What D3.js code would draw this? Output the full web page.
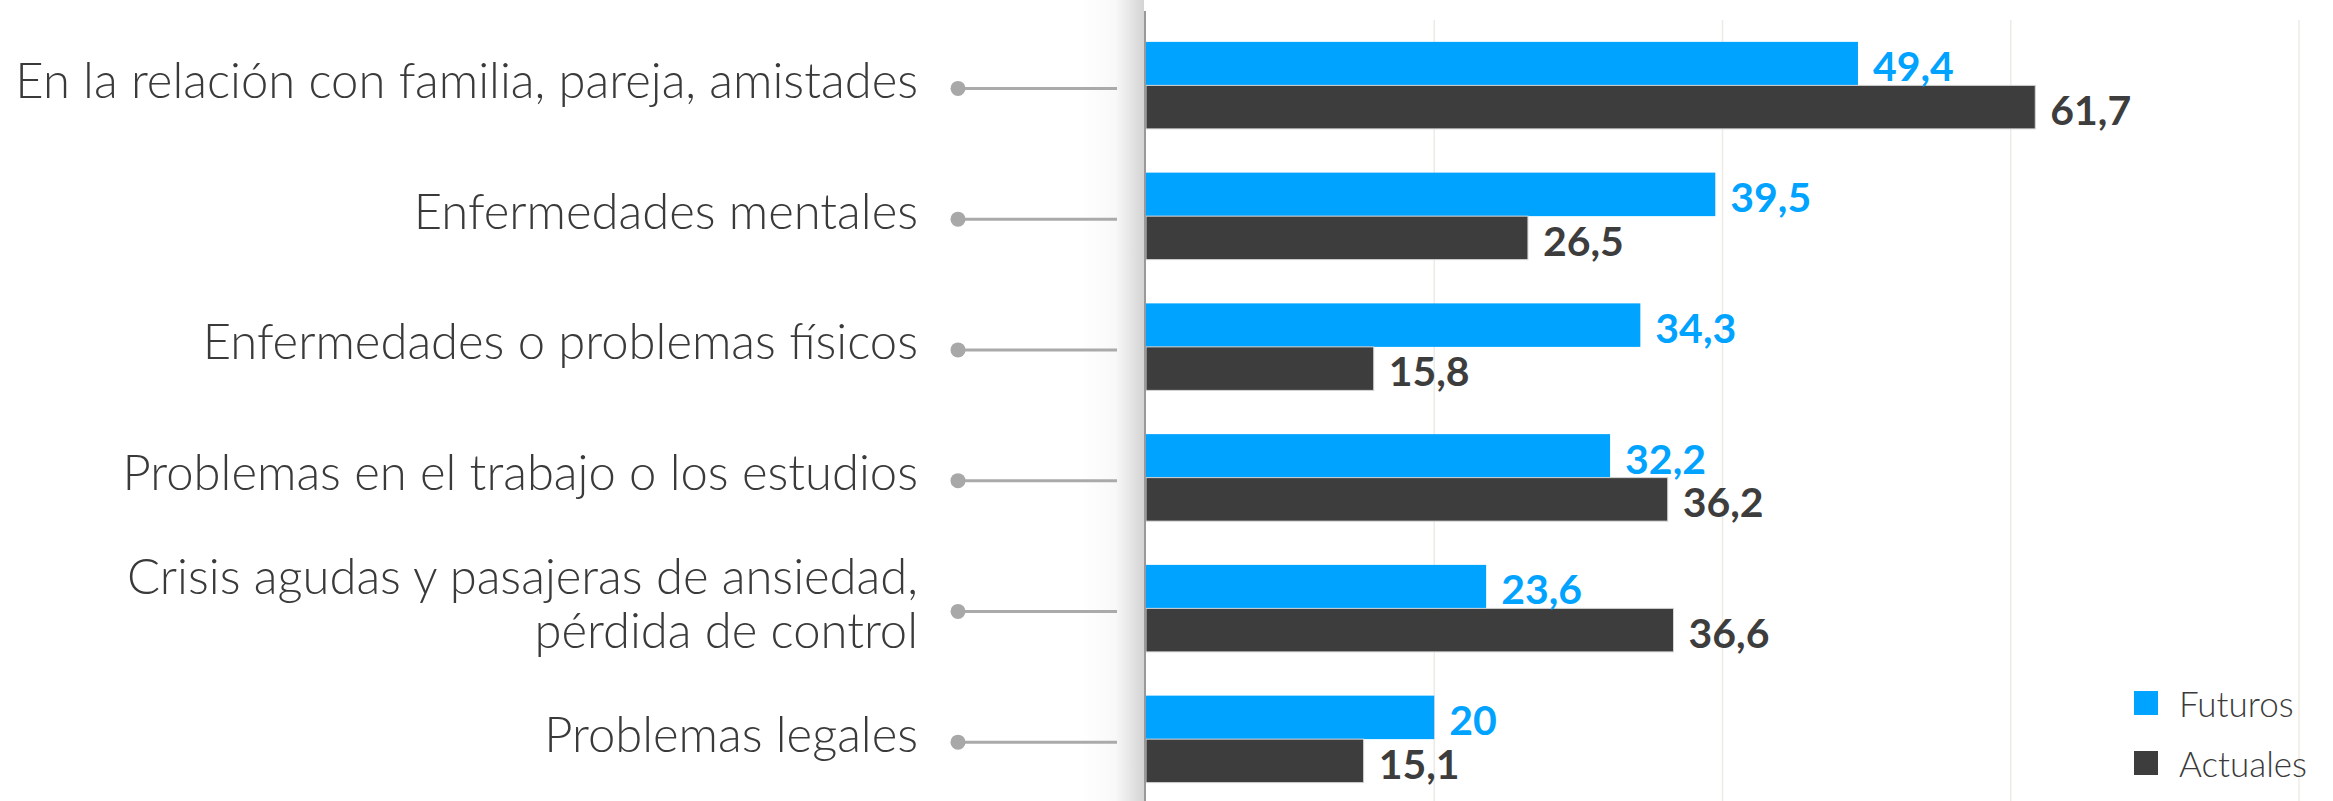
<!DOCTYPE html>
<html>
<head>
<meta charset="utf-8">
<script src="https://cdn.jsdelivr.net/npm/d3@7"></script>
<style>
  html, body { margin: 0; padding: 0; background: #ffffff; }
  svg { display: block; }
</style>
</head>
<body>
<script>
// ---- Data ----
const categories = [
  "En la relación con familia, pareja, amistades",
  "Enfermedades mentales",
  "Enfermedades o problemas físicos",
  "Problemas en el trabajo o los estudios",
  "Crisis agudas y pasajeras de ansiedad,\npérdida de control",
  "Problemas legales"
];
const seriesNames = ["Futuros", "Actuales"];
const futuros  = [49.4, 39.5, 34.3, 32.2, 23.6, 20];
const actuales = [61.7, 26.5, 15.8, 36.2, 36.6, 15.1];
const xTicks = [0, 20, 40, 60, 80];

// ---- Layout ----
const W = 2333, H = 801;
const colors = { "Futuros": "#00a3ff", "Actuales": "#3d3d3d" };
const locale = d3.formatLocale({ decimal: ",", thousands: ".", grouping: [3], currency: ["", "€"] });
const fmt = locale.format(".1~f");

const svg = d3.select("body").append("svg").attr("width", W).attr("height", H);

const x = d3.scaleLinear().domain([0, 80]).range([1146, 2299]);
const y = d3.scaleBand().domain(categories).range([20, 804.5]).paddingInner(0.3346).paddingOuter(0.1673);
const ySub = d3.scaleBand().domain(seriesNames).range([0, y.bandwidth()]);

// shadow left of axis
const defs = svg.append("defs");
const grad = defs.append("linearGradient").attr("id", "shadow").attr("x1", "0%").attr("x2", "100%").attr("y1", "0%").attr("y2", "0%");
grad.append("stop").attr("offset", "0%").attr("stop-color", "#000").attr("stop-opacity", 0);
grad.append("stop").attr("offset", "55%").attr("stop-color", "#000").attr("stop-opacity", 0.025);
grad.append("stop").attr("offset", "100%").attr("stop-color", "#000").attr("stop-opacity", 0.17);
svg.append("rect").attr("x", x(0) - 66).attr("y", 0).attr("width", 64).attr("height", H).attr("fill", "url(#shadow)");

// gridlines
svg.append("g").selectAll("line").data(xTicks.filter(d => d > 0)).join("line")
  .attr("x1", d => x(d)).attr("x2", d => x(d))
  .attr("y1", 20).attr("y2", H)
  .attr("stroke", "#ecebe4").attr("stroke-width", 1.5);

// rows
const data = categories.map((c, i) => ({ cat: c, Futuros: futuros[i], Actuales: actuales[i] }));

const rows = svg.append("g").selectAll("g").data(data).join("g")
  .attr("transform", d => `translate(0,${y(d.cat)})`);

rows.selectAll("rect").data(d => seriesNames.map(s => ({ s, v: d[s] }))).join("rect")
  .attr("x", x(0))
  .attr("y", d => ySub(d.s))
  .attr("width", d => x(d.v) - x(0))
  .attr("height", ySub.bandwidth())
  .attr("fill", d => colors[d.s])
  .attr("stroke", d => d.s === "Actuales" ? "#d4d4d4" : "none")
  .attr("stroke-width", 1);

rows.selectAll("text.val").data(d => seriesNames.map(s => ({ s, v: d[s] }))).join("text")
  .attr("class", "val")
  .attr("x", d => x(d.v) + 15)
  .attr("y", d => ySub(d.s) + ySub.bandwidth() - 4)
  .attr("fill", d => colors[d.s])
  .attr("font-family", "Lato, sans-serif")
  .attr("font-weight", 700)
  .attr("font-size", 41)
  .text(d => fmt(d.v));

// axis line
svg.append("line").attr("x1", x(0) - 1).attr("x2", x(0) - 1).attr("y1", 11).attr("y2", H)
  .attr("stroke", "#999").attr("stroke-width", 2);

// category labels with connectors
const labelG = svg.append("g");
const lineY = d => y(d.cat) + ySub.bandwidth() + 3;
labelG.selectAll("line").data(data).join("line")
  .attr("x1", 958).attr("x2", 1117)
  .attr("y1", lineY).attr("y2", lineY)
  .attr("stroke", "#aaaaaa").attr("stroke-width", 3);
labelG.selectAll("circle").data(data).join("circle")
  .attr("cx", 958).attr("cy", lineY).attr("r", 7.5).attr("fill", "#a8a8a8");

const labels = labelG.selectAll("text").data(data).join("text")
  .attr("text-anchor", "end")
  .attr("font-family", "Lato, sans-serif")
  .attr("font-weight", 300)
  .attr("font-size", 40)
  .attr("fill", "#3a3a3a");
labels.each(function(d) {
  const lines = d.cat.split("\n");
  const t = d3.select(this);
  const gap = 54;
  const base = lineY(d) + 9.5 - (lines.length - 1) * gap / 2;
  lines.forEach((ln, j) => {
    t.append("tspan").attr("x", 918).attr("y", base + j * gap).text(ln);
  });
});
// scale font so the longest single line spans the reference width
let maxW = 0;
labels.selectAll("tspan").each(function() { maxW = Math.max(maxW, this.getComputedTextLength()); });
labels.attr("font-size", 40 * 903 / maxW);

// legend
const leg = svg.append("g").selectAll("g").data(seriesNames).join("g")
  .attr("transform", (d, i) => `translate(2134,${691 + i * 60})`);
leg.append("rect").attr("width", 24).attr("height", 24).attr("fill", d => colors[d]);
leg.append("text").attr("x", 45).attr("y", 26)
  .attr("font-family", "Lato, sans-serif").attr("font-weight", 300).attr("font-size", 35)
  .attr("fill", "#3a3a3a").text(d => d);
</script>
</body>
</html>
